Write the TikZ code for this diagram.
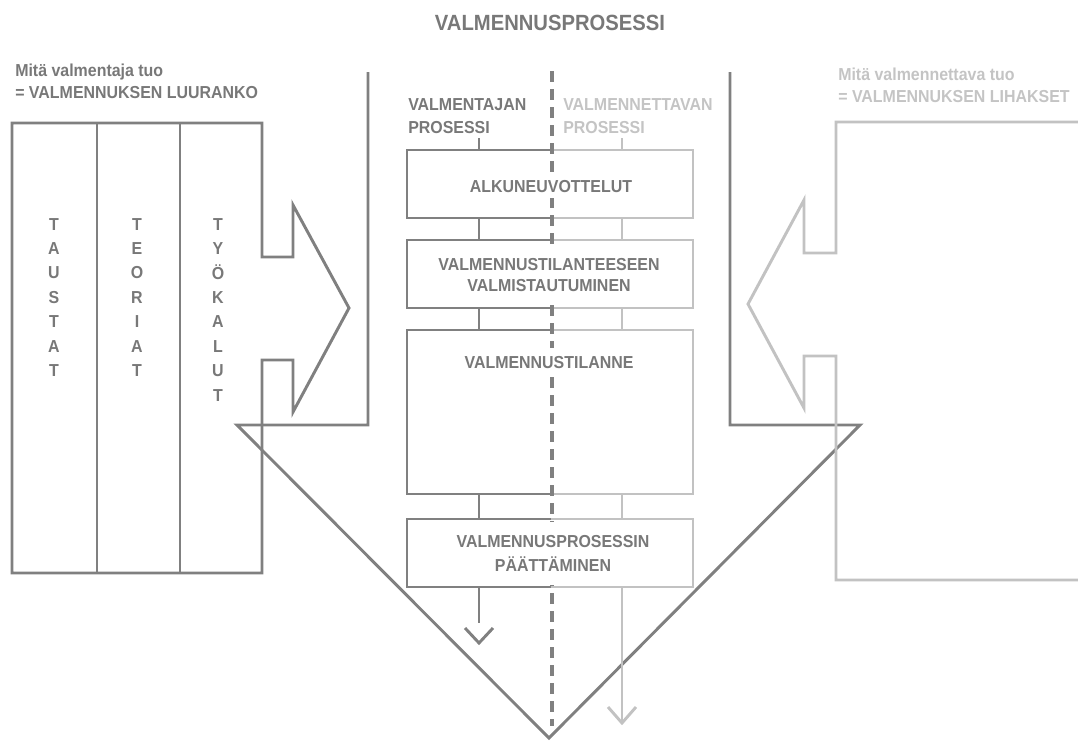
\documentclass[tikz,border=0pt]{standalone}
\usepackage{fontspec}
\setmainfont[FakeStretch=0.92]{Liberation Sans}
\usetikzlibrary{calc}
\definecolor{dk}{HTML}{808080}
\definecolor{lt}{HTML}{C2C2C2}
\definecolor{dktxt}{HTML}{787878}
\definecolor{lttxt}{HTML}{C4C4C4}
\begin{document}
\begin{tikzpicture}[x=0.75pt,y=-0.75pt,
  dkline/.style={draw=dk,line width=2.2pt,line join=miter},
  ltline/.style={draw=lt,line width=2.2pt,line join=miter},
  dashline/.style={draw=dk,line width=2.4pt,dash pattern=on 8.5pt off 5pt},
  txt/.style={font=\fontsize{13}{15.6}\selectfont\bfseries,inner sep=0pt},
  dtxt/.style={txt,text=dktxt},
  ltxt/.style={txt,text=lttxt},
  boxtext/.style={dtxt,fill=white,inner xsep=3pt,inner ysep=4pt,align=center},
  vert/.style={font=\fontsize{13}{18.3}\selectfont\bfseries,text=dktxt,inner sep=0pt,align=center,anchor=north},
  titletext/.style={font=\fontsize{16.5}{20}\selectfont\bfseries,text=dktxt,inner sep=0pt},
]
\useasboundingbox (0,0) rectangle (1078,747);

% ---- texts on top
\node[titletext,anchor=base] (title) at (550,30) {VALMENNUSPROSESSI};
\node[dtxt,anchor=base west] (lt1) at (15,76) {Mitä valmentaja tuo};
\node[dtxt,anchor=base west] (lt2) at (15,98) {= VALMENNUKSEN LUURANKO};
\node[ltxt,anchor=base west] (rt1) at (838,80) {Mitä valmennettava tuo};
\node[ltxt,anchor=base west] (rt2) at (838,102) {= VALMENNUKSEN LIHAKSET};

% ---- big downward arrow (dark)
\draw[dkline] (368,72) -- (368,425) -- (237,425) -- (549,738) -- (860,425) -- (730,425) -- (730,72);

% ---- left frame with arrow (dark)
\draw[dkline] (262,123) -- (12,123) -- (12,573) -- (262,573) -- (262,360) -- (293,360) -- (293,412)
  -- (349,308) -- (293,205) -- (293,257) -- (262,257) -- cycle;
\draw[dkline] (97,123) -- (97,573);
\draw[dkline] (180,123) -- (180,573);
\node[vert] (taustat) at (54,218) {T\\A\\U\\S\\T\\A\\T};
\node[vert] (teoriat) at (137,218) {T\\E\\O\\R\\I\\A\\T};
\node[vert] (tyokalut) at (218,218) {T\\Y\\Ö\\K\\A\\L\\U\\T};

% ---- right frame with arrow (light)
\draw[ltline] (1082,122) -- (836,122) -- (836,253) -- (804,253) -- (804,200) -- (748,304)
  -- (804,408) -- (804,356) -- (836,356) -- (836,580) -- (1082,580);

% ---- process columns headers
\node[dtxt,anchor=base west] (vh1) at (408,110) {VALMENTAJAN};
\node[dtxt,anchor=base west] (vh2) at (408,133) {PROSESSI};
\node[ltxt,anchor=base west] (lh1) at (563,110) {VALMENNETTAVAN};
\node[ltxt,anchor=base west] (lh2) at (563,133) {PROSESSI};

% ---- boxes (coordinates)
\foreach \i/\t/\b in {1/150/218, 2/240/308, 3/330/494, 4/519/587} {
  \coordinate (b\i tl) at (407,\t);
  \coordinate (b\i tm) at (551,\t);
  \coordinate (b\i tr) at (693,\t);
  \coordinate (b\i bl) at (407,\b);
  \coordinate (b\i bm) at (551,\b);
  \coordinate (b\i br) at (693,\b);
}
\foreach \i in {1,2,3,4} {
  \draw[dkline] (b\i tm) -- (b\i tl) -- (b\i bl) -- (b\i bm);
  \draw[ltline] (b\i tm) -- (b\i tr) -- (b\i br) -- (b\i bm);
}

% ---- connectors
\coordinate (hl) at (479,138);
\coordinate (hr) at (622,138);
\draw[dkline] (hl) -- (hl |- b1tl);
\draw[ltline] (hr) -- (hr |- b1tr);
\draw[dkline] (hl |- b1bl) -- (hl |- b2tl);
\draw[ltline] (hr |- b1br) -- (hr |- b2tr);
\draw[dkline] (hl |- b2bl) -- (hl |- b3tl);
\draw[ltline] (hr |- b2br) -- (hr |- b3tr);
\draw[dkline] (hl |- b3bl) -- (hl |- b4tl);
\draw[ltline] (hr |- b3br) -- (hr |- b4tr);
\coordinate (lend) at (479,623);
\coordinate (rend) at (622,722);
\draw[dkline] (hl |- b4bl) -- (lend);
\draw[ltline] (hr |- b4br) -- (rend);
\coordinate (lc1) at (465,628);
\coordinate (lc2) at (479,643);
\coordinate (lc3) at (493,628);
\draw[dkline] (lc1) -- (lc2) -- (lc3);
\coordinate (rc1) at (608,707);
\coordinate (rc2) at (622,723);
\coordinate (rc3) at (636,707);
\draw[ltline] (rc1) -- (rc2) -- (rc3);

% ---- dashed divider
\coordinate (dtop) at (552,71);
\coordinate (dbot) at (552,726);
\draw[dashline] (dtop) -- (dbot);

% ---- box texts
\node[boxtext,anchor=base] (t1) at (551,192) {ALKUNEUVOTTELUT};
\node[boxtext,inner ysep=10pt,font=\fontsize{13}{15.75}\selectfont\bfseries] (t2) at (549,275.5) {VALMENNUSTILANTEESEEN\\VALMISTAUTUMINEN};
\node[boxtext,anchor=base,inner ysep=6pt] (t3) at (549,368) {VALMENNUSTILANNE};
\node[boxtext,inner ysep=10pt,font=\fontsize{13}{18}\selectfont\bfseries] (t4) at (553,553.5) {VALMENNUSPROSESSIN\\PÄÄTTÄMINEN};
\end{tikzpicture}
\end{document}
